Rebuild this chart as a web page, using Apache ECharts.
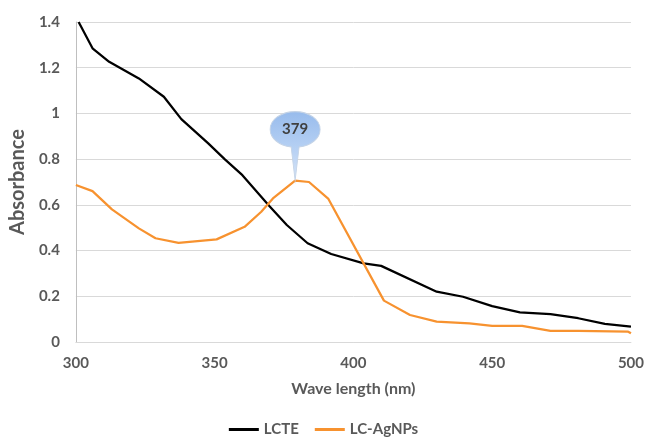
<!DOCTYPE html>
<html>
<head>
<meta charset="utf-8">
<script src="https://cdn.jsdelivr.net/npm/echarts@6/dist/echarts.min.js"></script>
<style>
html,body{margin:0;padding:0;background:#fff;}
#chart{width:647px;height:444px;}
</style>
</head>
<body>
<div id="chart"></div>
<script>
var lcteX = [301, 306, 312, 322.7, 331.7, 338, 347.7, 353.6, 360, 369.7, 376, 383.5, 392, 403.7, 410, 430, 439.5, 450, 460, 471, 481, 490.6, 500];
var lcteY = [1.40, 1.285, 1.226, 1.153, 1.073, 0.975, 0.869, 0.80, 0.73, 0.595, 0.512, 0.432, 0.385, 0.344, 0.333, 0.22, 0.198, 0.157, 0.13, 0.122, 0.104, 0.079, 0.067];
var agX = [300, 306, 313, 322.7, 328.7, 337, 350.7, 360.8, 366.8, 371, 379, 384, 391, 411, 420.4, 430, 441.8, 450, 460.8, 471, 481, 499, 500];
var agY = [0.687, 0.66, 0.58, 0.497, 0.454, 0.434, 0.449, 0.504, 0.57, 0.628, 0.706, 0.70, 0.626, 0.181, 0.118, 0.089, 0.082, 0.071, 0.071, 0.049, 0.049, 0.045, 0.038];
var seriesNames = ['LCTE', 'LC-AgNPs'];
var peakLabel = '379';
var peakPoint = [379, 0.706];
var xTicks = {min: 300, max: 500, interval: 50};
var yTicks = {min: 0, max: 1.4, interval: 0.2};

function pairs(xs, ys){ return xs.map(function(x,i){ return [x, ys[i]]; }); }

var font = 'Lato, "Open Sans", sans-serif';
var txt = '#595959';
var chart = echarts.init(document.getElementById('chart'), null, {renderer:'canvas'});
chart.setOption({
  animation: false,
  backgroundColor: '#ffffff',
  grid: {left: 73, right: 14, top: 22, bottom: 102, containLabel: false},
  xAxis: {
    type: 'value', min: xTicks.min, max: xTicks.max, interval: xTicks.interval,
    name: 'Wave length (nm)', nameLocation: 'middle', nameGap: 39,
    nameTextStyle: {fontFamily: font, fontWeight: 'bold', fontSize: 16, color: txt},
    axisLine: {show: true, lineStyle: {color: '#d9d9d9', width: 1}},
    axisTick: {show: false},
    splitLine: {show: false},
    axisLabel: {fontFamily: font, fontWeight: 'bold', fontSize: 15, color: txt, margin: 14}
  },
  yAxis: {
    type: 'value', min: yTicks.min, max: yTicks.max, interval: yTicks.interval,
    name: 'Absorbance', nameLocation: 'middle', nameGap: 36, nameRotate: 90,
    nameTextStyle: {fontFamily: font, fontWeight: 'bold', fontSize: 20, color: txt},
    axisLine: {show: true, lineStyle: {color: '#bfbfbf', width: 1}},
    axisTick: {show: false},
    splitLine: {show: true, lineStyle: {color: '#d9d9d9', width: 1}},
    axisLabel: {fontFamily: font, fontWeight: 'bold', fontSize: 15, color: txt, margin: 16}
  },
  legend: {
    bottom: 2, left: 'center', itemWidth: 30, itemHeight: 3, itemGap: 16,
    icon: 'rect',
    textStyle: {fontFamily: font, fontWeight: 'bold', fontSize: 15, color: txt},
    data: seriesNames
  },
  series: [
    {
      name: seriesNames[0], type: 'line', data: pairs(lcteX, lcteY),
      showSymbol: false, symbol: 'none', clip: true,
      lineStyle: {color: '#000000', width: 2.25}, itemStyle: {color: '#000000'}
    },
    {
      name: seriesNames[1], type: 'line', data: pairs(agX, agY),
      showSymbol: false, symbol: 'none', clip: true, z: 3,
      lineStyle: {color: '#f7922f', width: 2.25}, itemStyle: {color: '#f7922f'},
      markPoint: {
        silent: true,
        data: [{
          coord: peakPoint,
          symbol: 'path://M0,17.5 A25,17.5 0 1,1 50,17.5 A25,17.5 0 0,1 29,34.8 L25,68 L21,34.8 A25,17.5 0 0,1 0,17.5 Z',
          symbolSize: [50, 69],
          symbolOffset: [0, -34.5],
          symbolKeepAspect: false,
          itemStyle: {
            color: {type: 'linear', x: 0, y: 0, x2: 0, y2: 1, colorStops: [
              {offset: 0, color: '#97bbec'}, {offset: 0.5, color: '#b4cff3'}, {offset: 1, color: '#d6e4f7'}
            ]},
            borderColor: '#c4d3e6', borderWidth: 1
          },
          label: {
            show: true, position: 'inside', offset: [0, -16.5],
            formatter: peakLabel,
            fontFamily: font, fontWeight: 'bold', fontSize: 15, color: '#404040'
          }
        }]
      }
    }
  ]
});
</script>
</body>
</html>
